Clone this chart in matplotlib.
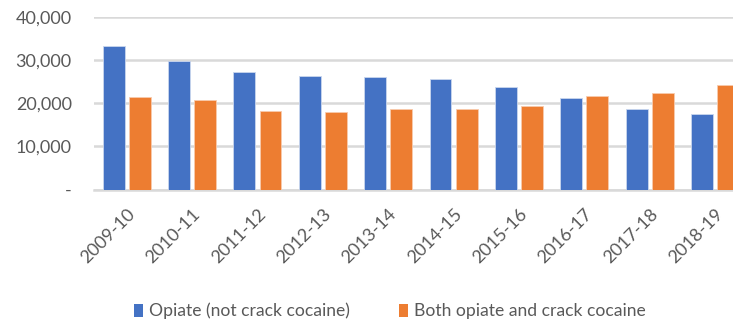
import numpy as np
import matplotlib.pyplot as plt
from matplotlib.patches import Patch
from matplotlib.ticker import FuncFormatter

plt.rcParams['font.family'] = ['Lato', 'DejaVu Sans']

years = ["2009-10", "2010-11", "2011-12", "2012-13", "2013-14",
         "2014-15", "2015-16", "2016-17", "2017-18", "2018-19"]
opiate_only = [33400, 29900, 27200, 26300, 26200, 25700, 23900, 21200, 18600, 17500]
opiate_crack = [21500, 20700, 18300, 17900, 18600, 18600, 19400, 21800, 22500, 24200]

blue = "#4472C4"
orange = "#ED7D31"
grey_text = "#595959"
grid_col = "#D9D9D9"

fig = plt.figure(figsize=(7.33, 3.24), dpi=100)
ax = fig.add_axes([0.1282, 0.415, 0.892, 0.532])

x = np.arange(len(years))
w = 0.335
ax.bar(x - 0.2, opiate_only, w, color=blue, edgecolor="#C9D6EE", linewidth=0.6, zorder=3)
ax.bar(x + 0.2, opiate_crack, w, color=orange, edgecolor="#F8CBAD", linewidth=0.6, zorder=3)

ax.set_xlim(-0.5, len(years) - 0.5)
ax.set_ylim(0, 40000)
ax.set_yticks([0, 10000, 20000, 30000, 40000])
ax.yaxis.set_major_formatter(FuncFormatter(lambda v, p: "-" if v == 0 else f"{int(v):,}"))
ax.yaxis.grid(True, color=grid_col, linewidth=1.8, zorder=0)
ax.set_axisbelow(True)

for s in ["top", "right", "left"]:
    ax.spines[s].set_visible(False)
ax.spines["bottom"].set_color(grid_col)
ax.spines["bottom"].set_linewidth(1.8)

ax.set_xticks(x)
ax.set_xticklabels(years, rotation=45, ha="right", rotation_mode="anchor")
ax.tick_params(axis="both", length=0, colors=grey_text, labelsize=13)
ax.tick_params(axis="y", pad=16)
ax.tick_params(axis="x", pad=12)

handles = [Patch(facecolor=blue), Patch(facecolor=orange)]
fig.legend(handles, ["Opiate (not crack cocaine)", "Both opiate and crack cocaine"],
           loc="center", bbox_to_anchor=(0.532, 0.04), ncol=2, frameon=False,
           fontsize=12.6, labelcolor=grey_text, handlelength=0.5, handleheight=0.8,
           handletextpad=0.35, columnspacing=2.8)

fig.savefig("out.png", dpi=100)
